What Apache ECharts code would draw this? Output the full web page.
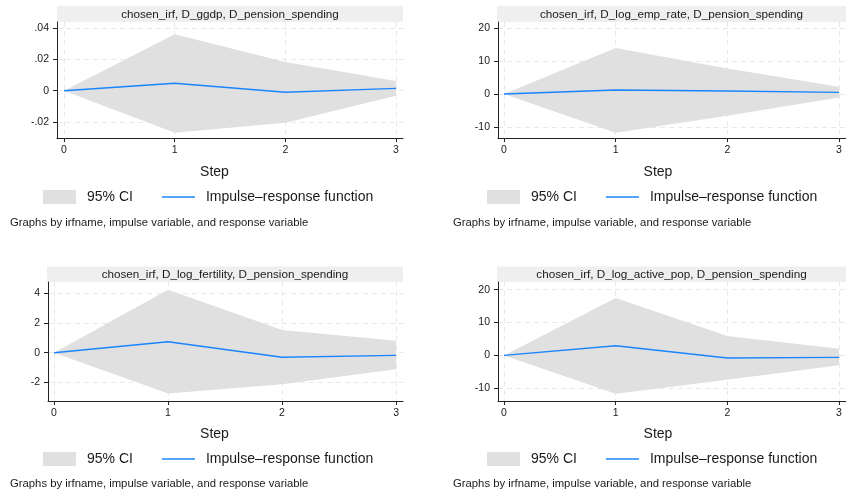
<!DOCTYPE html>
<html>
<head>
<meta charset="utf-8">
<script src="https://cdn.jsdelivr.net/npm/echarts@6/dist/echarts.min.js"></script>
<style>
html,body{margin:0;padding:0;background:#fff;}
#chart{width:846px;height:496px;}
</style>
</head>
<body>
<div id="chart"></div>
<script>
// ---- data ----
const steps = [0, 1, 2, 3];
const panelTitles = [
  'chosen_irf, D_ggdp, D_pension_spending',
  'chosen_irf, D_log_emp_rate, D_pension_spending',
  'chosen_irf, D_log_fertility, D_pension_spending',
  'chosen_irf, D_log_active_pop, D_pension_spending'
];
const irfGgdp = [0, 0.0048, -0.0010, 0.0015];
const loGgdp  = [0, -0.0270, -0.0206, -0.0032];
const hiGgdp  = [0, 0.0363, 0.0185, 0.0062];

const irfEmp = [0, 1.2, 0.9, 0.5];
const loEmp  = [0, -11.8, -6.6, -1.1];
const hiEmp  = [0, 14.0, 7.8, 2.2];

const irfFert = [0, 0.74, -0.31, -0.18];
const loFert  = [0, -2.76, -2.13, -1.12];
const hiFert  = [0, 4.25, 1.53, 0.81];

const irfPop = [0, 2.95, -0.8, -0.6];
const loPop  = [0, -11.65, -7.4, -3.0];
const hiPop  = [0, 17.5, 5.9, 2.0];

const yTicksGgdp = [-0.02, 0, 0.02, 0.04];
const yLabelsGgdp = ['-.02', '0', '.02', '.04'];
const yTicksEmp = [-10, 0, 10, 20];
const yLabelsEmp = ['-10', '0', '10', '20'];
const yTicksFert = [-2, 0, 2, 4];
const yLabelsFert = ['-2', '0', '2', '4'];
const yTicksPop = [-10, 0, 10, 20];
const yLabelsPop = ['-10', '0', '10', '20'];
const xLabels = ['0', '1', '2', '3'];

const ciName = '95% CI';
const irfName = 'Impulse\u2013response function';
const xTitle = 'Step';
const note = 'Graphs by irfname, impulse variable, and response variable';

// ---- layout / style ----
const FONT = '"Liberation Sans", Arial, Helvetica, sans-serif';
const TXT = '#1a1a1a';
const CI_COLOR = '#e0e0e0';
const LINE_COLOR = '#1a85ff';
const GRID_COLOR = '#e8e8e8';
const AXIS_COLOR = '#222';

const panels = [
  {irf: irfGgdp, lo: loGgdp, hi: hiGgdp, yt: yTicksGgdp, yl: yLabelsGgdp,
   grid: {left: 57, top: 22, width: 346, height: 116}, xmin: -0.063, xmax: 3.063, ymin: -0.0304, ymax: 0.04418,
   strip: {x: 57, y: 6, w: 346, h: 16}, stepShift: 31, nameGap: 27.5, legend: {left: 43, top: 190}, note: {x: 10, y: 223}},
  {irf: irfEmp, lo: loEmp, hi: hiEmp, yt: yTicksEmp, yl: yLabelsEmp,
   grid: {left: 498, top: 22, width: 348, height: 116}, xmin: -0.054, xmax: 3.063, ymin: -13.41, ymax: 21.95,
   strip: {x: 497, y: 6, w: 349, h: 16}, stepShift: 28, nameGap: 27.5, legend: {left: 487, top: 190}, note: {x: 453, y: 223}},
  {irf: irfFert, lo: loFert, hi: hiFert, yt: yTicksFert, yl: yLabelsFert,
   grid: {left: 48, top: 282, width: 355, height: 119}, xmin: -0.053, xmax: 3.061, ymin: -3.26, ymax: 4.77,
   strip: {x: 47, y: 266.5, w: 356, h: 15.5}, stepShift: 22, nameGap: 26, legend: {left: 43, top: 452}, note: {x: 10, y: 484}},
  {irf: irfPop, lo: loPop, hi: hiPop, yt: yTicksPop, yl: yLabelsPop,
   grid: {left: 498, top: 282, width: 348, height: 119}, xmin: -0.054, xmax: 3.063, ymin: -13.87, ymax: 22.33,
   strip: {x: 497, y: 266.5, w: 349, h: 15.5}, stepShift: 28, nameGap: 26, legend: {left: 487, top: 452}, note: {x: 453, y: 484}}
];

const grids = [], xAxes = [], yAxes = [], series = [], legends = [], graphics = [];

panels.forEach((p, i) => {
  grids.push(Object.assign({outerBoundsMode: 'none', containLabel: false}, p.grid));
  xAxes.push({
    type: 'value', gridIndex: i, min: p.xmin, max: p.xmax,
    name: xTitle, nameLocation: 'middle', nameGap: p.nameGap,
    nameTextStyle: {fontFamily: FONT, fontSize: 14, color: TXT, padding: [0, p.stepShift, 0, 0]},
    axisLine: {show: true, onZero: false, lineStyle: {color: AXIS_COLOR, width: 1}},
    axisTick: {show: true, length: 4, customValues: steps, lineStyle: {color: AXIS_COLOR}},
    axisLabel: {show: true, customValues: steps, margin: 7, fontFamily: FONT, fontSize: 10.5, color: TXT,
      formatter: v => xLabels[steps.indexOf(Math.round(v))]},
    splitLine: {show: true, lineStyle: {color: GRID_COLOR, type: [5, 4], width: 1}}
  });
  yAxes.push({
    type: 'value', gridIndex: i, min: p.ymin, max: p.ymax,
    axisLine: {show: true, onZero: false, lineStyle: {color: AXIS_COLOR, width: 1}},
    axisTick: {show: true, length: 4, customValues: p.yt, lineStyle: {color: AXIS_COLOR}},
    axisLabel: {show: true, customValues: p.yt, margin: 8, fontFamily: FONT, fontSize: 10.5, color: TXT,
      formatter: v => { let k = 0, best = Infinity; p.yt.forEach((t, j) => { if (Math.abs(t - v) < best) { best = Math.abs(t - v); k = j; } }); return p.yl[k]; }},
    splitLine: {show: true, lineStyle: {color: GRID_COLOR, type: [5, 4], width: 1}}
  });
  // 95% CI band: polygon through upper points then lower points (reversed), via the axis scales
  series.push({
    type: 'custom', name: ciName, xAxisIndex: i, yAxisIndex: i,
    data: steps.map((s, j) => [s, p.lo[j], p.hi[j]]),
    encode: {x: 0, y: [1, 2]},
    itemStyle: {color: CI_COLOR},
    silent: true, z: 1, clip: true,
    renderItem: (params, api) => {
      if (params.dataIndex !== 0) return null;
      const upper = steps.map((s, j) => api.coord([s, p.hi[j]]));
      const lower = steps.map((s, j) => api.coord([s, p.lo[j]])).reverse();
      return {type: 'polygon', shape: {points: upper.concat(lower)}, style: {fill: CI_COLOR}};
    }
  });
  series.push({
    type: 'line', name: irfName, xAxisIndex: i, yAxisIndex: i,
    data: steps.map((s, j) => [s, p.irf[j]]),
    symbol: 'none', showSymbol: false, silent: true,
    itemStyle: {color: LINE_COLOR},
    lineStyle: {color: LINE_COLOR, width: 1.4}, z: 3
  });
  legends.push({
    left: p.legend.left, top: p.legend.top, padding: 0, itemGap: 29,
    itemWidth: 33, itemHeight: 14, selectedMode: false, symbolKeepAspect: true,
    textStyle: {fontFamily: FONT, fontSize: 14, color: TXT, padding: [0, 0, 0, 6]},
    data: [
      {name: ciName, icon: 'rect', itemStyle: {color: CI_COLOR, borderWidth: 0}},
      {name: irfName, icon: 'path://M0,0L33,0L33,1.4L0,1.4Z', itemStyle: {color: LINE_COLOR, borderWidth: 0}}
    ]
  });
  graphics.push({
    type: 'rect', shape: {x: p.strip.x, y: p.strip.y, width: p.strip.w, height: p.strip.h},
    style: {fill: '#efefef'}, silent: true, z: 0
  });
  graphics.push({
    type: 'text', x: p.strip.x + p.strip.w / 2, y: p.strip.y + p.strip.h / 2 + 0.5,
    style: {text: panelTitles[i], font: '11.7px ' + FONT, fill: TXT, align: 'center', verticalAlign: 'middle'},
    silent: true, z: 1
  });
  graphics.push({
    type: 'text', x: p.note.x, y: p.note.y,
    style: {text: note, font: '11.3px ' + FONT, fill: TXT, align: 'left', verticalAlign: 'middle'},
    silent: true
  });
});

const chart = echarts.init(document.getElementById('chart'), null, {renderer: 'canvas'});
chart.setOption({
  animation: false,
  backgroundColor: '#fff',
  grid: grids,
  xAxis: xAxes,
  yAxis: yAxes,
  legend: legends,
  series: series,
  graphic: graphics
});
</script>
</body>
</html>
